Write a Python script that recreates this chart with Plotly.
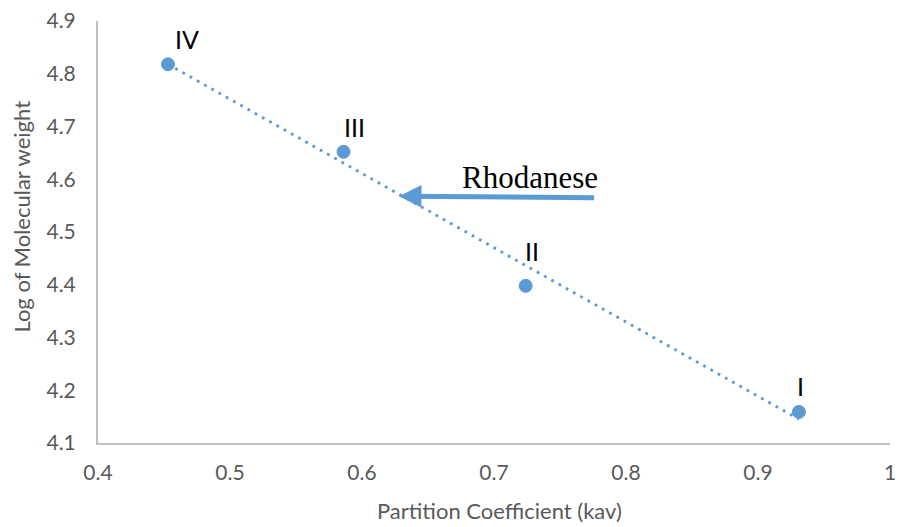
import plotly.graph_objects as go

# standards (partition coefficient vs log MW)
kav = [0.453, 0.586, 0.724, 0.931]
log_mw = [4.818, 4.652, 4.398, 4.159]
point_names = ["IV", "III", "II", "I"]

# where the labels sit
label_x = [0.4676, 0.5943, 0.7289, 0.9322]
label_y = [4.866, 4.6995, 4.4635, 4.2077]

# linear trendline end points
trend_x = [0.453, 0.931]
trend_y = [4.818, 4.145]

# arrow marking rhodanese
arrow_tip = (0.628, 4.568)
arrow_tail = (0.777, 4.565)
rhod_pos = (0.727, 4.6027)

x_ticks = [0.4, 0.5, 0.6, 0.7, 0.8, 0.9, 1.0]
x_tick_text = ["0.4", "0.5", "0.6", "0.7", "0.8", "0.9", "1"]
y_ticks = [4.1, 4.2, 4.3, 4.4, 4.5, 4.6, 4.7, 4.8, 4.9]

BLUE = "#5B9BD5"
GREY_TXT = "#595959"
AXIS = "#BFBFBF"
FONT = "Lato"

fig = go.Figure()

fig.add_trace(
    go.Scatter(
        x=trend_x, y=trend_y, mode="lines",
        line=dict(color=BLUE, width=2.8, dash="2.8px,5.5px"),
        showlegend=False, hoverinfo="skip",
    )
)

fig.add_trace(
    go.Scatter(
        x=kav, y=log_mw, mode="markers",
        marker=dict(color=BLUE, size=13, symbol="circle",
                    line=dict(color=BLUE, width=1)),
        showlegend=False,
    )
)

# roman numeral labels
for name, lx, ly in zip(point_names, label_x, label_y):
    fig.add_annotation(
        x=lx, y=ly, text=name, showarrow=False,
        font=dict(family=FONT, size=25, color="#000000"),
        xanchor="center", yanchor="middle",
    )

# Rhodanese arrow + text
fig.add_annotation(
    x=arrow_tip[0], y=arrow_tip[1],
    ax=arrow_tail[0], ay=arrow_tail[1],
    xref="x", yref="y", axref="x", ayref="y",
    text="", showarrow=True,
    arrowhead=2, arrowsize=0.9, arrowwidth=5, arrowcolor=BLUE,
)
fig.add_annotation(
    x=rhod_pos[0], y=rhod_pos[1], text="Rhodanese", showarrow=False,
    font=dict(family="Liberation Serif", size=31, color="#000000"),
    xanchor="center", yanchor="middle",
)

# axis titles
fig.add_annotation(
    x=0.5067, y=-0.16, xref="paper", yref="paper",
    text="Partition Coefficient (kav)", showarrow=False,
    font=dict(family=FONT, size=22, color=GREY_TXT),
    xanchor="center", yanchor="middle",
)
fig.add_annotation(
    x=-0.097, y=0.537, xref="paper", yref="paper",
    text="Log of Molecular weight", showarrow=False, textangle=-90,
    font=dict(family=FONT, size=22, color=GREY_TXT),
    xanchor="center", yanchor="middle",
)

fig.update_layout(
    width=903, height=527,
    margin=dict(l=98, r=7, t=16, b=84),
    paper_bgcolor="white",
    plot_bgcolor="white",
    showlegend=False,
)

fig.update_xaxes(
    range=[0.4, 1.0],
    tickvals=x_ticks, ticktext=x_tick_text,
    showgrid=False, zeroline=False,
    showline=True, linecolor=AXIS, linewidth=2,
    ticks="", ticklabelstandoff=10,
    tickfont=dict(family=FONT, size=21, color=GREY_TXT),
)
fig.update_yaxes(
    range=[4.1, 4.9],
    tickvals=y_ticks, tickformat=".1f",
    showgrid=False, zeroline=False,
    showline=True, linecolor=AXIS, linewidth=2,
    ticks="", ticklabelstandoff=16,
    tickfont=dict(family=FONT, size=21, color=GREY_TXT),
)

fig.write_html(
    "out.html",
    config={"displayModeBar": False},
    post_script="document.body.style.margin='0';",
)
